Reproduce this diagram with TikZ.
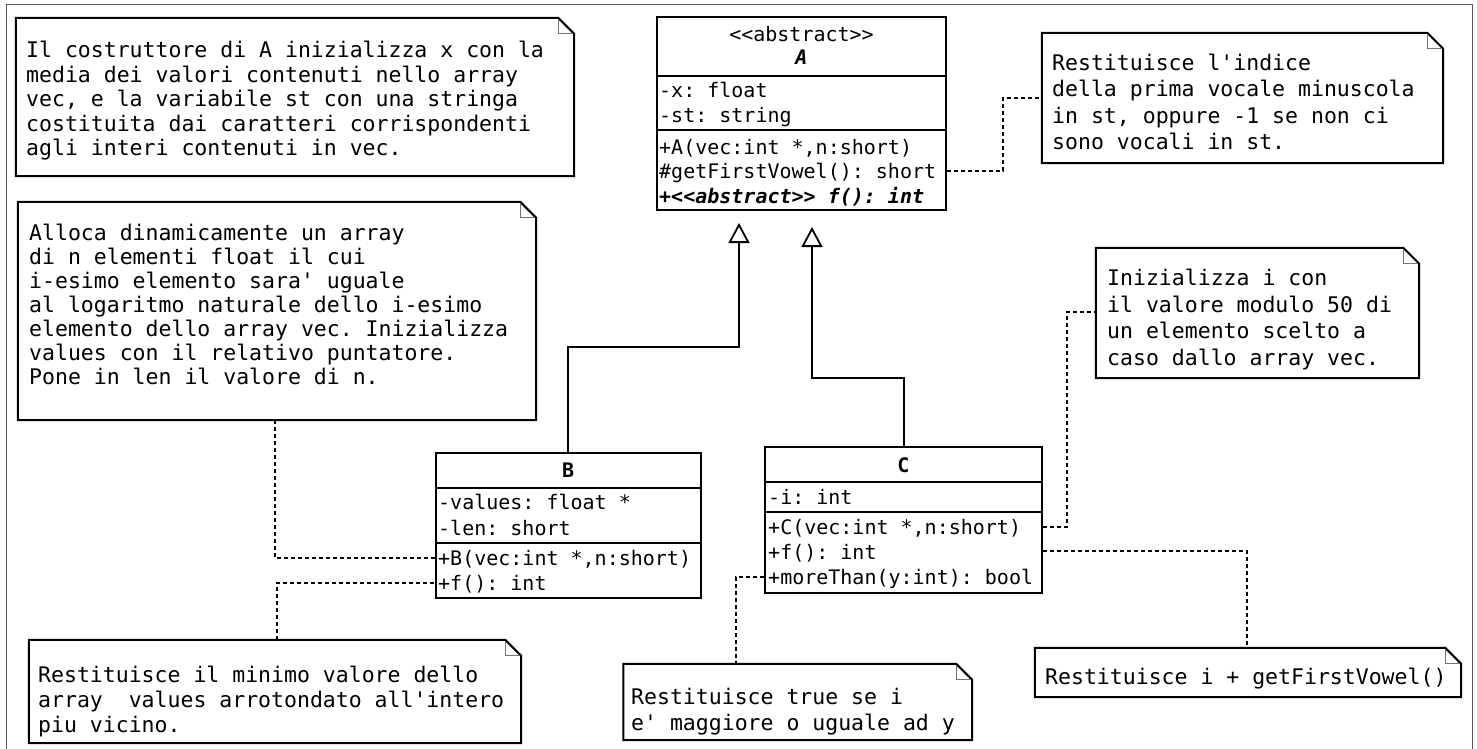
\documentclass[tikz,border=0pt]{standalone}
\usepackage{fontspec}
\newfontfamily\dmono{DejaVu Sans Mono}
\usetikzlibrary{arrows.meta,calc}
\begin{document}
\begin{tikzpicture}[x=1pt,y=-1pt,
  frame/.style={draw=black!65,line width=1pt},
  cls/.style={draw,line width=2pt,inner sep=0pt,fill=white},
  sep/.style={line width=2pt},
  notearea/.style={inner sep=0pt,draw=none},
  noteline/.style={line width=2pt,line join=miter},
  foldline/.style={line width=0.8pt,draw=black!55},
  ntext/.style={inner sep=0pt,anchor=base west,align=left,font=\dmono\fontsize{21.5}{#1}\selectfont\frenchspacing},
  ctext/.style={inner sep=0pt,anchor=base west,align=left,font=\dmono\fontsize{20}{#1}\selectfont\frenchspacing},
  ctitle/.style={inner sep=0pt,anchor=base,font=\dmono\fontsize{20}{24}\selectfont},
  dotline/.style={line width=1.8pt,dash pattern=on 4pt off 3pt},
  gen/.style={line width=2pt,-{Triangle[open,length=20pt,width=21pt,line width=1.8pt]}}
]
\useasboundingbox (0,0) rectangle (1477,749);
\draw[frame] (6,749) -- (6,5) -- (1472,5) -- (1472,749);

% ---------- classes ----------
\node[cls,minimum width=289pt,minimum height=193pt] (A) at (801.5,113.5) {};
\draw[sep] (A.west |- 0,76) -- (A.east |- 0,76);
\draw[sep] (A.west |- 0,130) -- (A.east |- 0,130);
\node[ctitle] (Ast) at (801.5,42) {\textless\textless abstract\textgreater\textgreater};
\node[ctitle,font=\dmono\fontsize{20}{24}\selectfont\bfseries\itshape] (Aname) at (801.5,65) {A};
% multi-line nodes: anchor base = baseline of the last line
\node[ctext=25] (Aattr) at (659,123) {-x: float\\-st: string};
\node[ctext=24.5] (Ameth) at (659,203) {+A(vec:int *,n:short)\\\#getFirstVowel(): short\\{\bfseries\itshape +\textless\textless abstract\textgreater\textgreater\ f(): int}};

\node[cls,minimum width=265.5pt,minimum height=145pt] (B) at (568.25,525.5) {};
\draw[sep] (B.west |- 0,488) -- (B.east |- 0,488);
\draw[sep] (B.west |- 0,543) -- (B.east |- 0,543);
\node[ctitle,font=\dmono\fontsize{20}{24}\selectfont\bfseries] (Bname) at (568.25,477) {B};
\node[ctext=26] (Battr) at (438,535) {-values: float *\\-len: short};
\node[ctext=25] (Bmeth) at (438,590) {+B(vec:int *,n:short)\\+f(): int};

\node[cls,minimum width=277pt,minimum height=146pt] (C) at (903.5,520) {};
\draw[sep] (C.west |- 0,482) -- (C.east |- 0,482);
\draw[sep] (C.west |- 0,512) -- (C.east |- 0,512);
\node[ctitle,font=\dmono\fontsize{20}{24}\selectfont\bfseries] (Cname) at (903.5,472) {C};
\node[ctext=25] (Cattr) at (768,504) {-i: int};
\node[ctext=25] (Cmeth) at (768,584) {+C(vec:int *,n:short)\\+f(): int\\+moreThan(y:int): bool};

% ---------- notes ----------
\node[notearea,minimum width=558pt,minimum height=158pt] (n1) at (295,97) {};
\node[notearea,minimum width=518pt,minimum height=218pt] (n2) at (277,311) {};
\node[notearea,minimum width=401pt,minimum height=130pt] (n3) at (1242.5,98) {};
\node[notearea,minimum width=323pt,minimum height=130pt] (n4) at (1257.5,313) {};
\node[notearea,minimum width=492pt,minimum height=103pt] (n5) at (275,691.5) {};
\node[notearea,minimum width=348.5pt,minimum height=76pt] (n6) at (797.75,702) {};
\node[notearea,minimum width=426pt,minimum height=49pt] (n7) at (1248,672.5) {};
\foreach \n in {n1,n2,n3,n4,n5,n6,n7}{
  \draw[noteline,fill=white] (\n.south west) -- (\n.north west) -- ($(\n.north east)+(-16,0)$) -- ($(\n.north east)+(0,16)$) -- (\n.south east) -- cycle;
  \draw[foldline] ($(\n.north east)+(-16,1)$) |- ($(\n.north east)+(-1,16)$);
}

\node[ntext=24.5] (t1) at (26,155.5) {Il costruttore di A inizializza x con la\\media dei valori contenuti nello array\\vec, e la variabile st con una stringa\\costituita dai caratteri corrispondenti\\agli interi contenuti in vec.};
\node[ntext=24] (t2) at (29,384.5) {Alloca dinamicamente un array\\di n elementi float il cui\\i-esimo elemento sara\textquotesingle\ uguale\\al logaritmo naturale dello i-esimo\\elemento dello array vec. Inizializza\\values con il relativo puntatore.\\Pone in len il valore di n.};
\node[ntext=26.3] (t3) at (1052,149.4) {Restituisce l\textquotesingle indice\\della prima vocale minuscola\\in st, oppure -1 se non ci\\sono vocali in st.};
\node[ntext=26.7] (t4) at (1107,365.6) {Inizializza i con\\il valore modulo 50 di\\un elemento scelto a\\caso dallo array vec.};
\node[ntext=25] (t5) at (38,732.5) {Restituisce il minimo valore dello\\array \ values arrotondato all\textquotesingle intero\\piu vicino.};
\node[ntext=26] (t6) at (631,730.5) {Restituisce true se i\\e\textquotesingle\ maggiore o uguale ad y};
\node[ntext=25] (t7) at (1045,684) {Restituisce i + getFirstVowel()};

% ---------- generalizations ----------
\coordinate (tipB) at (739,223);
\coordinate (bendB) at (739,347);
\coordinate (tipC) at (812,227);
\coordinate (bendC) at (812,378);
\draw[gen] (B.north) |- (bendB) -- (tipB);
\draw[gen] (C.north) |- (bendC) -- (tipC);

% ---------- note links ----------
\draw[dotline] (A.east |- 0,171) -| (1003,98) -- (n3.west |- 0,98);
\draw[dotline] (n2.south -| 275,0) |- (B.west |- 0,558);
\draw[dotline] (n5.north -| 277,0) |- (B.west |- 0,583);
\draw[dotline] (C.east |- 0,527) -| (1067,312) -- (n4.west |- 0,312);
\draw[dotline] (C.east |- 0,551) -| (n7.north -| 1247,0);
\draw[dotline] (C.west |- 0,577) -| (n6.north -| 736,0);
\end{tikzpicture}
\end{document}
